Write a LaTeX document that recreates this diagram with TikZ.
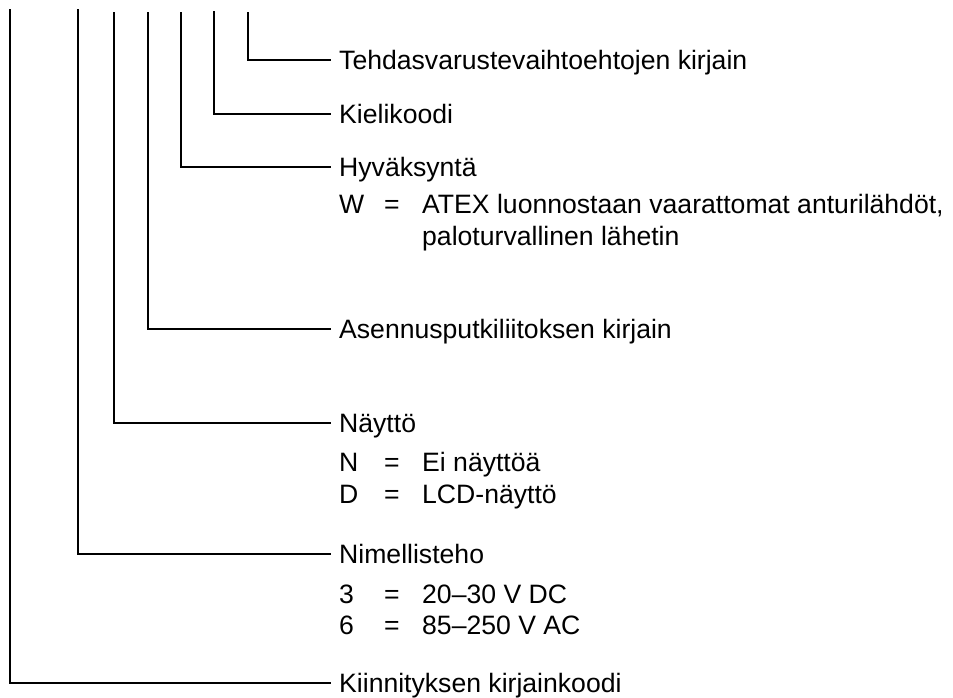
\documentclass[tikz,border=0pt]{standalone}
\usepackage{fontspec}
\setmainfont{Liberation Sans}

\tikzset{
  lead/.style={line width=2.4pt, shorten >=8pt},
  lbl/.style={anchor=west, inner sep=0pt, text height=19pt, text depth=0pt},
  opt/.style={anchor=base west, inner sep=0pt},
}

\begin{document}
\begin{tikzpicture}[x=1pt, y=-1pt, font=\fontsize{26.6}{31.5}\selectfont]
	\useasboundingbox (0,0) rectangle (953,697);
	% upper ends of the code positions
	\coordinate (pKiin) at (10,9);
	\coordinate (pNim) at (78,9);
	\coordinate (pNay) at (114,12);
	\coordinate (pAsen) at (148,12);
	\coordinate (pHyv) at (181,12);
	\coordinate (pKieli) at (214,11);
	\coordinate (pTeh) at (248,12);
	% labels
	\node[lbl] (teh) at (339,60) {Tehdasvarustevaihtoehtojen kirjain};
	\node[lbl] (kieli) at (339,114) {Kielikoodi};
	\node[lbl] (hyv) at (339,167) {Hyväksyntä};
	\node[opt] (hyvW) at (339,213.5) {W};
	\node[opt] (hyvWeq) at (384,213.5) {=};
	\node[opt] (hyvWa) at (422,213.5) {ATEX luonnostaan vaarattomat anturilähdöt,};
	\node[opt] (hyvWb) at (422,245) {paloturvallinen lähetin};
	\node[lbl] (asen) at (339,329) {Asennusputkiliitoksen kirjain};
	\node[lbl] (nay) at (339,423) {Näyttö};
	\node[opt] (nayN) at (339,471.5) {N};
	\node[opt] (nayNeq) at (384,471.5) {=};
	\node[opt] (nayNa) at (422,471.5) {Ei näyttöä};
	\node[opt] (nayD) at (339,503.5) {D};
	\node[opt] (nayDeq) at (384,503.5) {=};
	\node[opt] (nayDa) at (422,503.5) {LCD-näyttö};
	\node[lbl] (nim) at (339,554) {Nimellisteho};
	\node[opt] (nim3) at (339,603.5) {3};
	\node[opt] (nim3eq) at (384,603.5) {=};
	\node[opt] (nim3a) at (422,603.5) {20–30 V DC};
	\node[opt] (nim6) at (339,634.5) {6};
	\node[opt] (nim6eq) at (384,634.5) {=};
	\node[opt] (nim6a) at (422,634.5) {85–250 V AC};
	\node[lbl] (kiin) at (339,683) {Kiinnityksen kirjainkoodi};
	% leader lines
	\draw[lead] (pTeh) |- (teh.west);
	\draw[lead] (pKieli) |- (kieli.west);
	\draw[lead] (pHyv) |- (hyv.west);
	\draw[lead] (pAsen) |- (asen.west);
	\draw[lead] (pNay) |- (nay.west);
	\draw[lead] (pNim) |- (nim.west);
	\draw[lead] (pKiin) |- (kiin.west);
\end{tikzpicture}
\end{document}
